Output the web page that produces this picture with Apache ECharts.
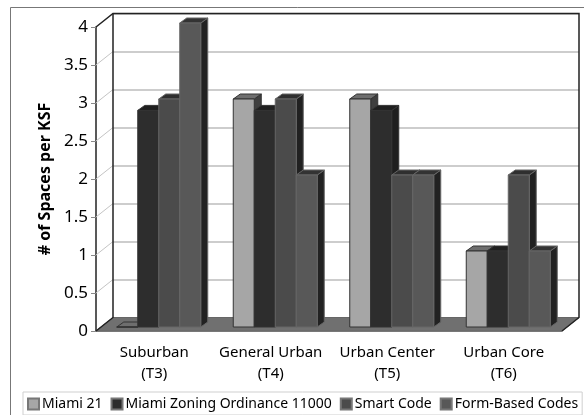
<!DOCTYPE html>
<html>
<head>
<meta charset="utf-8">
<style>
  html, body { margin: 0; padding: 0; background: #fff; }
  #chart { width: 584px; height: 415px; }
</style>
<script src="https://cdn.jsdelivr.net/npm/echarts@6/dist/echarts.min.js"></script>
</head>
<body>
<div id="chart"></div>
<script>
var categories = ["Suburban\n(T3)", "General Urban\n(T4)", "Urban Center\n(T5)", "Urban Core\n(T6)"];
var miami21 = [0, 3, 3, 1];
var zoning11000 = [2.85, 2.85, 2.85, 1];
var smartCode = [3, 3, 2, 2];
var formBased = [4, 2, 2, 1];
var yTicks = [0, 0.5, 1, 1.5, 2, 2.5, 3, 3.5, 4];

var FONT = "Noto Sans";
var DX = 17, DY = -13.5; // offset of the back wall from the front axis
var BAR_W = 21, BAR_DX = 7, BAR_DY = -5; // bar width and its own depth

function bar3d(index, front, top, side, line) {
  return function (params, api) {
    var base = api.coord([api.value(0), 0]);
    var head = api.coord([api.value(0), api.value(1)]);
    var x = base[0] - 2 * BAR_W + index * BAR_W + 4.5;
    var y0 = base[1] - 4;
    var y1 = head[1] - 4;
    var x1 = x + BAR_W;
    var st = { lineWidth: 1, stroke: line };
    return {
      type: "group",
      children: [
        { type: "polygon", shape: { points: [[x1, y0], [x1 + BAR_DX, y0 + BAR_DY], [x1 + BAR_DX, y1 + BAR_DY], [x1, y1]] },
          style: Object.assign({ fill: side }, st) },
        { type: "polygon", shape: { points: [[x, y1], [x + BAR_DX, y1 + BAR_DY], [x1 + BAR_DX, y1 + BAR_DY], [x1, y1]] },
          style: Object.assign({ fill: top }, st) },
        { type: "rect", shape: { x: x, y: y1, width: BAR_W, height: y0 - y1 },
          style: Object.assign({ fill: front }, st) }
      ]
    };
  };
}

function barSeries(name, data, index, front, top, side, line) {
  return {
    name: name,
    type: "custom",
    xAxisIndex: 0,
    yAxisIndex: 0,
    z: 5,
    silent: true,
    itemStyle: { color: front, borderColor: "#777", borderWidth: 1 },
    encode: { x: 0, y: 1 },
    data: data.map(function (v, i) { return [i, v]; }),
    renderItem: bar3d(index, front, top, side, line)
  };
}

// floor and side wall, placed from the front axis scale
function renderWalls(params, api) {
  var left = api.coord([0, 0]);
  var right = api.coord([categories.length - 1, 0]);
  var top = api.coord([0, yTicks[yTicks.length - 1]]);
  var band = api.size([1, 0])[0];
  var x0 = left[0] - band / 2;
  var x1 = right[0] + band / 2;
  var y0 = left[1];
  var y4 = top[1];
  var kids = [];
  yTicks.slice(1, -1).forEach(function (t) {
    var p = api.coord([0, t]);
    kids.push({ type: "line", shape: { x1: x0, y1: p[1], x2: x0 + DX, y2: p[1] + DY }, style: { stroke: "#c4c4c4", lineWidth: 1 } });
  });
  kids.push({ type: "polygon", shape: { points: [[x0, y0], [x0 + DX, y0 + DY], [x1 + DX, y0 + DY], [x1, y0]] },
    style: { fill: "#707070", stroke: "#666", lineWidth: 1 } });
  var frame = { stroke: "#222", lineWidth: 1.5, fill: null };
  kids.push({ type: "polyline", shape: { points: [[x0, y0], [x0 + DX, y0 + DY], [x0 + DX, y4 + DY]] }, style: frame });
  kids.push({ type: "polyline", shape: { points: [[x0, y4], [x0 + DX, y4 + DY], [x1 + DX, y4 + DY], [x1 + DX, y0 + DY], [x1, y0]] }, style: frame });
  return { type: "group", children: kids };
}

var chart = echarts.init(document.getElementById("chart"), null, { renderer: "canvas" });
chart.setOption({
  animation: false,
  backgroundColor: "#fff",
  textStyle: { fontFamily: FONT },
  graphic: [
    { type: "rect", z: -1, shape: { x: 10.5, y: 7.5, width: 700, height: 500 }, style: { fill: "#fff", stroke: "#777", lineWidth: 1 } }
  ],
  grid: [
    { left: 96, top: 27, width: 466, height: 304 },
    { left: 113, top: 13.5, width: 466, height: 304 }
  ],
  legend: {
    left: 23,
    top: 392,
    data: ["Miami 21", "Miami Zoning Ordinance 11000", "Smart Code", "Form-Based Codes"],
    icon: "rect",
    itemWidth: 11,
    itemHeight: 11,
    itemGap: 8,
    padding: [5, 4, 4, 4],
    backgroundColor: "#fff",
    borderColor: "#cfcfcf",
    borderWidth: 1,
    selectedMode: false,
    textStyle: { fontFamily: FONT, fontSize: 14, color: "#000", padding: [0, 0, 0, -2] }
  },
  xAxis: [
    {
      type: "category",
      gridIndex: 0,
      data: categories,
      axisLine: { lineStyle: { color: "#8a8a8a", width: 1 } },
      axisTick: { length: 5, lineStyle: { color: "#8a8a8a" } },
      axisLabel: { fontFamily: FONT, fontSize: 15, color: "#000", lineHeight: 21, margin: 11, interval: 0 }
    },
    { type: "category", gridIndex: 1, data: categories, show: false }
  ],
  yAxis: [
    {
      type: "value",
      gridIndex: 0,
      min: 0,
      max: 4,
      interval: 0.5,
      name: "# of Spaces per KSF",
      nameLocation: "middle",
      nameGap: 38,
      nameTextStyle: { fontFamily: FONT, fontSize: 16, fontWeight: "bold", color: "#000" },
      axisLine: { show: true, lineStyle: { color: "#222", width: 1.5 } },
      axisTick: { show: true, length: 5, lineStyle: { color: "#888" } },
      axisLabel: { fontFamily: FONT, fontSize: 17, color: "#000", margin: 8 },
      splitLine: { show: false }
    },
    {
      type: "value",
      gridIndex: 1,
      min: 0,
      max: 4,
      interval: 0.5,
      axisLine: { show: false },
      axisTick: { show: false },
      axisLabel: { show: false },
      splitLine: { show: true, lineStyle: { color: "#bdbdbd", width: 1.5 } }
    }
  ],
  series: [
    { type: "custom", silent: true, xAxisIndex: 0, yAxisIndex: 0, z: 3, data: [[0, 0]], encode: { x: 0, y: 1 }, renderItem: renderWalls },
    barSeries("Miami 21", miami21, 0, "#a6a6a6", "#6e6e6e", "#3f3f3f", "#333"),
    barSeries("Miami Zoning Ordinance 11000", zoning11000, 1, "#2d2d2d", "#1f1f1f", "#1f1f1f", "#333"),
    barSeries("Smart Code", smartCode, 2, "#4b4b4b", "#2f2f2f", "#212121", "#666"),
    barSeries("Form-Based Codes", formBased, 3, "#585858", "#333333", "#222222", "#666")
  ]
});
</script>
</body>
</html>
